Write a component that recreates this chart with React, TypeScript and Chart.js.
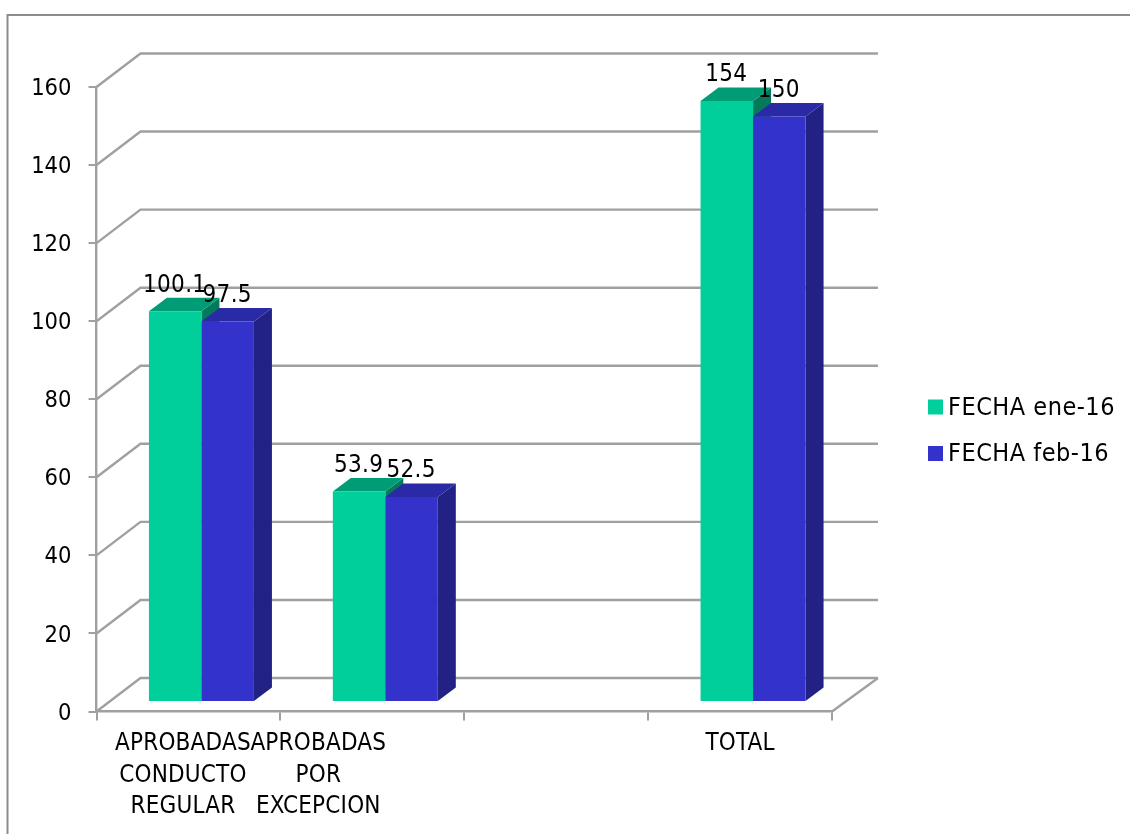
import React, { useEffect, useRef } from "react";
import { Chart, registerables } from "chart.js";

Chart.register(...registerables);

const categories: string[][] = [
  ["APROBADAS", "CONDUCTO", "REGULAR"],
  ["APROBADAS", "POR", "EXCEPCION"],
  [""],
  ["TOTAL"],
];
const fechaEne: (number | null)[] = [100.1, 53.9, null, 154];
const fechaFeb: (number | null)[] = [97.5, 52.5, null, 150];
const seriesNames = ["FECHA ene-16", "FECHA feb-16"];
const yTicksStep = 20;

const FONT = '"DejaVu Sans Condensed", "DejaVu Sans", sans-serif';
const FRONT = ["#00CF9C", "#3333CC"];
const TOP = ["#009C76", "#2A2AA6"];
const SIDE = ["#05795C", "#222284"];
const GRID = "#A0A0A0";
const AXIS = "#A0A0A0";
const FRAME = "#8C8C8C";

// 3D projection
const WALL_DX = 44;
const WALL_DY = -33.5;
const BAR_DX = 13;
const BAR_DY = -9.5;
const DEPTH_DX = 18;
const DEPTH_DY = -13.5;
const LABEL_SHIFT = [-5.5, -54, 0, 0];

function poly(ctx: CanvasRenderingContext2D, pts: number[][], fill: string) {
  ctx.beginPath();
  pts.forEach((p, i) => (i ? ctx.lineTo(p[0], p[1]) : ctx.moveTo(p[0], p[1])));
  ctx.closePath();
  ctx.fillStyle = fill;
  ctx.fill();
}

const plugin3d = {
  id: "plugin3d",
  beforeDatasetsDraw(chart: any) {
    const { ctx, scales } = chart;
    const ys = scales.y;
    const left = chart.chartArea.left;
    const right = chart.chartArea.right;

    ctx.save();
    // outer frame
    ctx.strokeStyle = FRAME;
    ctx.lineWidth = 2;
    ctx.beginPath();
    ctx.moveTo(7.5, 834);
    ctx.lineTo(7.5, 15);
    ctx.lineTo(1130, 15);
    ctx.stroke();

    // walls
    ctx.strokeStyle = GRID;
    ctx.lineWidth = 2.4;
    ys.ticks.forEach((t: any) => {
      const y = ys.getPixelForValue(t.value);
      ctx.beginPath();
      ctx.moveTo(left, y);
      ctx.lineTo(left + WALL_DX, y + WALL_DY);
      ctx.lineTo(right + WALL_DX + 2, y + WALL_DY);
      ctx.stroke();
    });
    const y0 = ys.getPixelForValue(0);
    ctx.beginPath();
    ctx.moveTo(right, y0);
    ctx.lineTo(right + WALL_DX + 2, y0 + WALL_DY);
    ctx.stroke();

    // bar sides, inside the shifted bar plane
    ctx.translate(BAR_DX, BAR_DY);
    chart.data.datasets.forEach((ds: any, d: number) => {
      const meta = chart.getDatasetMeta(d);
      meta.data.forEach((el: any, i: number) => {
        if (ds.data[i] == null) return;
        const hw = el.width / 2;
        const l = el.x - hw;
        const r = el.x + hw;
        const t = el.y;
        const b = el.base;
        poly(ctx, [[r, t], [r + DEPTH_DX, t + DEPTH_DY], [r + DEPTH_DX, b + DEPTH_DY], [r, b]], SIDE[d]);
        poly(ctx, [[l, t], [l + DEPTH_DX, t + DEPTH_DY], [r + DEPTH_DX, t + DEPTH_DY], [r, t]], TOP[d]);
      });
    });
    // kept until afterDatasetsDraw so that the front faces share the shift
  },
  afterDatasetsDraw(chart: any) {
    const { ctx, scales } = chart;
    ctx.restore();

    ctx.save();
    ctx.fillStyle = "#000";
    ctx.font = `24px ${FONT}`;
    ctx.textAlign = "center";
    ctx.textBaseline = "middle";

    // value labels
    ctx.letterSpacing = "0.3px";
    chart.data.datasets.forEach((ds: any, d: number) => {
      const meta = chart.getDatasetMeta(d);
      meta.data.forEach((el: any, i: number) => {
        if (ds.data[i] == null) return;
        ctx.fillText(String(ds.data[i]), el.x + BAR_DX - 0.5, el.y + BAR_DY - 26);
      });
    });

    // category labels
    ctx.letterSpacing = "0.2px";
    const xs = scales.x;
    categories.forEach((lines, i) => {
      const cx = xs.getPixelForValue(i) + LABEL_SHIFT[i];
      lines.forEach((line, j) => {
        if (line) ctx.fillText(line, cx, 744 + j * 31.5);
      });
    });

    // legend
    ctx.textAlign = "left";
    ctx.font = `25px ${FONT}`;
    ctx.letterSpacing = "0.5px";
    chart.data.datasets.forEach((ds: any, d: number) => {
      const y = 407 + d * 46.5;
      ctx.fillStyle = FRONT[d];
      ctx.fillRect(928, y - 7.5, 15, 15);
      ctx.fillStyle = "#000";
      ctx.fillText(ds.label, 948, y + 1);
    });
    ctx.restore();
  },
};

export default function App() {
  const ref = useRef<HTMLCanvasElement>(null);
  useEffect(() => {
    const chart = new Chart(ref.current as HTMLCanvasElement, {
      type: "bar",
      data: {
        labels: categories as any,
        datasets: [
          { label: seriesNames[0], data: fechaEne, backgroundColor: FRONT[0], clip: false } as any,
          { label: seriesNames[1], data: fechaFeb, backgroundColor: FRONT[1], clip: false } as any,
        ],
      },
      plugins: [plugin3d],
      options: {
        responsive: false,
        animation: false,
        events: [],
        categoryPercentage: 0.571,
        barPercentage: 1,
        layout: { padding: { left: 0, right: 298, top: 87, bottom: 122.5 } },
        plugins: { legend: { display: false }, tooltip: { enabled: false }, title: { display: false } },
        scales: {
          x: {
            offset: true,
            afterFit: (s: any) => { s.height = 0; },
            ticks: { display: false },
            grid: { drawOnChartArea: false, color: AXIS, lineWidth: 2, tickLength: 9 },
            border: { color: AXIS, width: 2.4 },
          },
          y: {
            min: 0,
            max: 160,
            afterFit: (s: any) => { s.width = 96.5; },
            ticks: {
              stepSize: yTicksStep,
              color: "#000",
              padding: 17,
              labelOffset: 2,
              font: { family: FONT, size: 23.5 },
            },
            grid: { drawOnChartArea: false, color: AXIS, lineWidth: 2, tickLength: 8 },
            border: { color: AXIS, width: 2.4 },
          },
        },
      } as any,
    });
    return () => chart.destroy();
  }, []);
  return (
    <canvas
      ref={ref}
      width={1130}
      height={834}
      style={{ position: "absolute", left: 0, top: 0, width: 1130, height: 834, background: "#fff" }}
    />
  );
}
